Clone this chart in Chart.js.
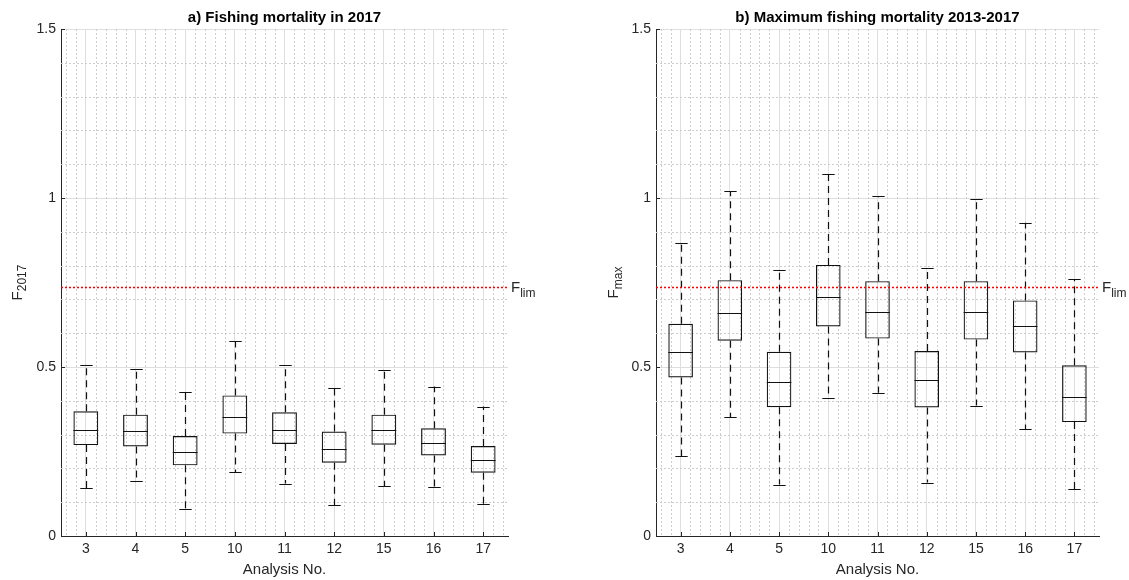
<!DOCTYPE html>
<html>
<head>
<meta charset="utf-8">
<title>Fishing mortality</title>
<script src="https://cdn.jsdelivr.net/npm/chart.js@4.4.1/dist/chart.umd.min.js"></script>
<style>
    html, body { margin: 0; padding: 0; background: #fff; }
    .panel { position: absolute; top: 0; }
    #panel-a { left: 0; }
    #panel-b { left: 560px; }
</style>
</head>
<body>
<div class="panel" id="panel-a"><canvas id="chart-f2017" width="560" height="580"></canvas></div>
<div class="panel" id="panel-b"><canvas id="chart-fmax" width="569" height="580"></canvas></div>
<script>
// --- DONNÉES ---
const analyses = ['3', '4', '5', '10', '11', '12', '15', '16', '17'];

// a) F en 2017
const f2017High = [0.507, 0.494, 0.425, 0.576, 0.505, 0.439, 0.492, 0.442, 0.383];
const f2017Q3   = [0.369, 0.359, 0.296, 0.416, 0.366, 0.309, 0.359, 0.319, 0.266];
const f2017Med  = [0.314, 0.310, 0.249, 0.353, 0.315, 0.257, 0.315, 0.274, 0.226];
const f2017Q1   = [0.269, 0.265, 0.209, 0.303, 0.272, 0.217, 0.270, 0.238, 0.187];
const f2017Low  = [0.142, 0.164, 0.081, 0.188, 0.155, 0.091, 0.148, 0.145, 0.095];

// b) F max 2013-2017
const fmaxHigh = [0.868, 1.021, 0.787, 1.070, 1.006, 0.794, 0.996, 0.927, 0.759];
const fmaxQ3   = [0.628, 0.757, 0.545, 0.802, 0.754, 0.547, 0.754, 0.697, 0.505];
const fmaxMed  = [0.545, 0.661, 0.457, 0.707, 0.662, 0.463, 0.662, 0.620, 0.412];
const fmaxQ1   = [0.469, 0.578, 0.381, 0.620, 0.584, 0.380, 0.581, 0.543, 0.337];
const fmaxLow  = [0.236, 0.352, 0.152, 0.407, 0.424, 0.158, 0.386, 0.316, 0.139];

const fLim = 0.736;

// --- STYLE ---
const FONT = '"Liberation Sans", Arial, Helvetica, sans-serif';
const TEXT = '#262626';
const GRID = '#dedede';
const MINOR = '#cdcdcd';

function makeChart(canvasId, cfg) {
    // grille mineure (pointillés) + petits traits de graduation vers l'intérieur
    const minorGrid = {
        id: 'minorGrid',
        beforeDatasetsDraw(chart) {
            const { ctx, chartArea: a, scales: { x, y } } = chart;
            ctx.save();
            ctx.strokeStyle = MINOR;
            ctx.lineWidth = 1;
            ctx.setLineDash([2, 2]);
            for (let k = 1; k < 15; k++) {
                if (k % 5 === 0) continue;
                const py = Math.round(y.getPixelForValue(k / 10)) + 0.5;
                ctx.beginPath(); ctx.moveTo(a.left, py); ctx.lineTo(a.right, py); ctx.stroke();
            }
            for (let k = 3; k < 48; k++) {
                if (k % 5 === 0) continue;
                const px = Math.round(x.getPixelForValue(k / 5)) + 0.5;
                ctx.beginPath(); ctx.moveTo(px, a.top); ctx.lineTo(px, a.bottom); ctx.stroke();
            }
            ctx.setLineDash([]);
            ctx.strokeStyle = TEXT;
            x.ticks.forEach(t => {
                const px = Math.round(x.getPixelForValue(t.value)) + 0.5;
                ctx.beginPath(); ctx.moveTo(px, a.bottom); ctx.lineTo(px, a.bottom - 4); ctx.stroke();
            });
            y.ticks.forEach(t => {
                const py = Math.round(y.getPixelForValue(t.value)) + 0.5;
                ctx.beginPath(); ctx.moveTo(a.left, py); ctx.lineTo(a.left + 4, py); ctx.stroke();
            });
            ctx.restore();
        }
    };

    // moustaches, médianes et ligne F_lim
    const boxPlot = {
        id: 'boxPlot',
        afterDatasetsDraw(chart) {
            const { ctx, chartArea: a, scales: { y } } = chart;
            const bars = chart.getDatasetMeta(0).data;
            ctx.save();
            ctx.strokeStyle = '#111';
            ctx.lineWidth = 1.2;
            bars.forEach((bar, i) => {
                const px = Math.round(bar.x) + 0.5;
                const half = bar.width / 2;
                const yHi = y.getPixelForValue(cfg.high[i]);
                const yQ3 = y.getPixelForValue(cfg.q3[i]);
                const yQ1 = y.getPixelForValue(cfg.q1[i]);
                const yLo = y.getPixelForValue(cfg.low[i]);
                const yMed = Math.round(y.getPixelForValue(cfg.med[i])) + 0.5;

                ctx.setLineDash([7, 5]);
                ctx.beginPath();
                ctx.moveTo(px, yQ3); ctx.lineTo(px, yHi);
                ctx.moveTo(px, yQ1); ctx.lineTo(px, yLo);
                ctx.stroke();

                ctx.setLineDash([]);
                ctx.beginPath();
                ctx.moveTo(px - half / 2, Math.round(yHi) + 0.5); ctx.lineTo(px + half / 2, Math.round(yHi) + 0.5);
                ctx.moveTo(px - half / 2, Math.round(yLo) + 0.5); ctx.lineTo(px + half / 2, Math.round(yLo) + 0.5);
                ctx.moveTo(bar.x - half, yMed); ctx.lineTo(bar.x + half, yMed);
                ctx.stroke();
            });

            const yLim = Math.round(y.getPixelForValue(fLim)) + 0.5;
            ctx.strokeStyle = '#ff0000';
            ctx.lineWidth = 1.5;
            ctx.setLineDash([2, 2]);
            ctx.beginPath(); ctx.moveTo(a.left, yLim); ctx.lineTo(a.right, yLim); ctx.stroke();
            ctx.restore();
        }
    };

    // titre, étiquette de l'axe Y et F_lim (avec indices)
    const panelText = {
        id: 'panelText',
        afterDraw(chart) {
            const { ctx, chartArea: a, scales: { y } } = chart;
            ctx.save();
            ctx.fillStyle = '#000';
            ctx.font = 'bold 15px ' + FONT;
            ctx.textAlign = 'center';
            ctx.textBaseline = 'alphabetic';
            ctx.fillText(cfg.title, (a.left + a.right) / 2, 22);

            ctx.fillStyle = TEXT;
            ctx.textAlign = 'left';
            // F indice, pivoté
            ctx.font = '15px ' + FONT;
            const wMain = ctx.measureText('F').width;
            ctx.font = '12px ' + FONT;
            const wSub = ctx.measureText(cfg.ySub).width;
            ctx.save();
            ctx.translate(cfg.yLabelX, (a.top + a.bottom) / 2);
            ctx.rotate(-Math.PI / 2);
            const x0 = -(wMain + wSub) / 2;
            ctx.font = '15px ' + FONT;
            ctx.fillText('F', x0, 0);
            ctx.font = '12px ' + FONT;
            ctx.fillText(cfg.ySub, x0 + wMain, 4);
            ctx.restore();

            // F_lim à droite de la ligne
            const yLim = y.getPixelForValue(fLim);
            ctx.font = '15px ' + FONT;
            ctx.fillText('F', a.right + 3, yLim + 5);
            ctx.font = '12px ' + FONT;
            ctx.fillText('lim', a.right + 3 + wMain, yLim + 10);
            ctx.restore();
        }
    };

    return new Chart(document.getElementById(canvasId), {
        type: 'bar',
        data: {
            datasets: [{
                data: analyses.map((a, i) => ({ x: i + 1, y: [cfg.q1[i], cfg.q3[i]] })),
                backgroundColor: 'rgba(0,0,0,0)',
                borderColor: '#111',
                borderWidth: 1.2,
                borderSkipped: false,
                barPercentage: 0.5,
                categoryPercentage: 1
            }]
        },
        options: {
            responsive: false,
            animation: false,
            devicePixelRatio: 1,
            layout: { padding: { top: 29, right: cfg.padRight, bottom: 0, left: 0 } },
            plugins: { legend: { display: false }, tooltip: { enabled: false } },
            scales: {
                x: {
                    type: 'linear',
                    min: 0.5,
                    max: 9.5,
                    offset: false,
                    afterBuildTicks: s => { s.ticks = analyses.map((a, i) => ({ value: i + 1 })); },
                    afterFit: s => { s.height = 44; },
                    ticks: {
                        callback: v => analyses[v - 1],
                        autoSkip: false,
                        maxRotation: 0,
                        padding: 5,
                        color: TEXT,
                        font: { family: FONT, size: 14 }
                    },
                    grid: { color: GRID, drawTicks: false, offset: false },
                    border: { color: TEXT, width: 1 },
                    title: {
                        display: true,
                        text: 'Analysis No.',
                        color: TEXT,
                        font: { family: FONT, size: 15 },
                        padding: { top: 0, bottom: 1 }
                    }
                },
                y: {
                    min: 0,
                    max: 1.5,
                    afterFit: s => { s.width = cfg.axisWidth; },
                    ticks: {
                        stepSize: 0.5,
                        padding: 5,
                        color: TEXT,
                        font: { family: FONT, size: 14 },
                        callback: v => String(v)
                    },
                    grid: { color: GRID, drawTicks: false },
                    border: { color: TEXT, width: 1 }
                }
            }
        },
        plugins: [minorGrid, boxPlot, panelText]
    });
}

// --- LES DEUX PANNEAUX ---
makeChart('chart-f2017', {
    title: 'a) Fishing mortality in 2017',
    ySub: '2017',
    yLabelX: 22,
    axisWidth: 61,
    padRight: 52,
    high: f2017High, q3: f2017Q3, med: f2017Med, q1: f2017Q1, low: f2017Low
});

makeChart('chart-fmax', {
    title: 'b) Maximum fishing mortality 2013-2017',
    ySub: 'max',
    yLabelX: 58,
    axisWidth: 96,
    padRight: 30,
    high: fmaxHigh, q3: fmaxQ3, med: fmaxMed, q1: fmaxQ1, low: fmaxLow
});
</script>
</body>
</html>
